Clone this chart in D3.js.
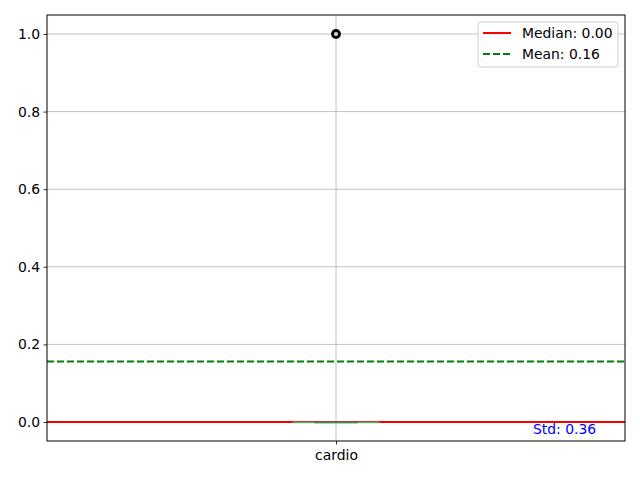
<!DOCTYPE html>
<html>
<head>
<meta charset="utf-8">
<style>
  body { margin: 0; background: #fff; }
  text { font-family: "DejaVu Sans", sans-serif; }
</style>
</head>
<body>
<div id="chart"></div>
<script src="https://cdn.jsdelivr.net/npm/d3@7"></script>
<script>
// data
var categories = ['cardio'];
var boxStats = [{ q1: 0, median: 0, q3: 0, whiskerLo: 0, whiskerHi: 0 }];
var outliers = [1.0];
var medianValue = 0.00;
var meanValue = 0.156;
var stdValue = 0.36;
var yTicks = [0.0, 0.2, 0.4, 0.6, 0.8, 1.0];

var width = 640, height = 480;
var margin = { top: 15, right: 15, bottom: 39, left: 47 };
var fs = 13.9;

var svg = d3.select('#chart').append('svg')
  .attr('width', width).attr('height', height);

var x = d3.scaleLinear().domain([0.5, 1.5]).range([margin.left, width - margin.right]);
var y = d3.scaleLinear().domain([-0.049, 1.049]).range([height - margin.bottom, margin.top]);

// grid
svg.append('g').selectAll('line').data(yTicks).enter().append('line')
  .attr('x1', x(0.5)).attr('x2', x(1.5))
  .attr('y1', function(d){ return y(d); }).attr('y2', function(d){ return y(d); })
  .attr('stroke', '#b0b0b0').attr('stroke-width', 0.8);
svg.append('line')
  .attr('x1', x(1)).attr('x2', x(1))
  .attr('y1', y.range()[1]).attr('y2', y.range()[0])
  .attr('stroke', '#b0b0b0').attr('stroke-width', 0.8);

// median + mean lines
svg.append('line')
  .attr('x1', x(0.5)).attr('x2', x(1.5))
  .attr('y1', y(medianValue)).attr('y2', y(medianValue))
  .attr('stroke', 'red').attr('stroke-width', 2);
svg.append('line')
  .attr('x1', x(0.5)).attr('x2', x(1.5))
  .attr('y1', y(meanValue)).attr('y2', y(meanValue))
  .attr('stroke', 'green').attr('stroke-width', 2).attr('stroke-dasharray', '7,3');

// box (flat, drawn over the median line)
var bw = 0.15;
boxStats.forEach(function(s, i){
  var c = i + 1;
  var x0 = x(c - bw / 2), x1 = x(c + bw / 2);
  svg.append('path')
    .attr('d', 'M' + x0 + ',' + (y(s.q3) + 0.5) + 'H' + x1 + 'V' + (y(s.q1) + 0.5) + 'H' + x0 + 'Z')
    .attr('fill', 'none').attr('stroke', '#5fb37a').attr('stroke-width', 1.5);
  svg.append('line')
    .attr('x1', x(c - bw / 4)).attr('x2', x(c + bw / 4))
    .attr('y1', y(s.median) + 0.5).attr('y2', y(s.median) + 0.5)
    .attr('stroke', '#3a8a4a').attr('stroke-width', 1.5);
});

// outliers
svg.selectAll('.flier').data(outliers).enter().append('circle')
  .attr('class', 'flier')
  .attr('cx', x(1)).attr('cy', function(d){ return y(d); })
  .attr('r', 3.5).attr('fill', 'none').attr('stroke', 'black').attr('stroke-width', 2.8);

// axes
var yAxis = d3.axisLeft(y).tickValues(yTicks).tickFormat(d3.format('.1f')).tickSize(3.5).tickPadding(3.5);
var gy = svg.append('g').attr('transform', 'translate(' + margin.left + ',0)').call(yAxis);
var xAxis = d3.axisBottom(x).tickValues([1]).tickFormat(function(d){ return categories[d - 1]; }).tickSize(3.5).tickPadding(5.5);
var gx = svg.append('g').attr('transform', 'translate(0,' + (height - margin.bottom) + ')').call(xAxis);
[gx, gy].forEach(function(g){
  g.select('.domain').remove();
  g.selectAll('line').attr('stroke', 'black').attr('stroke-width', 0.8);
  g.selectAll('text').attr('font-size', fs).attr('fill', 'black')
    .style('font-family', '"DejaVu Sans", sans-serif');
});

// frame
svg.append('rect')
  .attr('x', margin.left).attr('y', margin.top)
  .attr('width', width - margin.left - margin.right)
  .attr('height', height - margin.bottom - margin.top)
  .attr('fill', 'none').attr('stroke', 'black').attr('stroke-width', 1);

// std text
svg.append('text')
  .attr('x', x(0.5) + 0.95 * (x(1.5) - x(0.5)))
  .attr('y', 434)
  .attr('text-anchor', 'end')
  .attr('font-size', fs).attr('fill', 'blue')
  .text('Std: ' + stdValue.toFixed(2));

// legend
var leg = svg.append('g').attr('transform', 'translate(478,22)');
leg.append('rect').attr('width', 140).attr('height', 45).attr('rx', 3)
  .attr('fill', 'white').attr('fill-opacity', 0.8).attr('stroke', '#cccccc');
var legItems = [
  { label: 'Median: ' + medianValue.toFixed(2), color: 'red', dash: null },
  { label: 'Mean: ' + meanValue.toFixed(2), color: 'green', dash: '7,3' }
];
legItems.forEach(function(d, i){
  var yy = 11 + i * 21;
  leg.append('line').attr('x1', 5).attr('x2', 33).attr('y1', yy).attr('y2', yy)
    .attr('stroke', d.color).attr('stroke-width', 2).attr('stroke-dasharray', d.dash);
  leg.append('text').attr('x', 44).attr('y', yy + 5)
    .attr('font-size', fs).attr('fill', 'black').text(d.label);
});
</script>
</body>
</html>
